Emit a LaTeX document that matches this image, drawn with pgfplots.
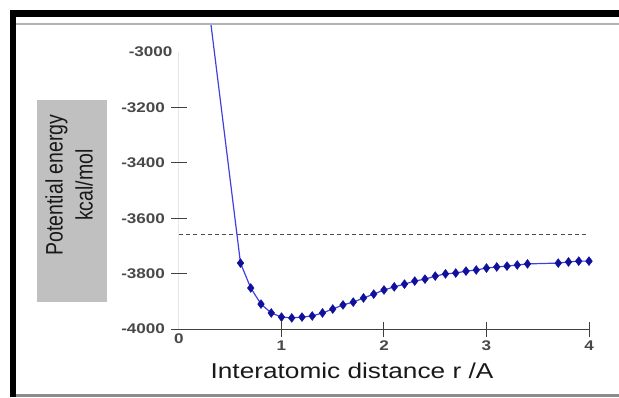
\documentclass[border=0pt]{standalone}
\usepackage{pgfplots}
\pgfplotsset{compat=1.18}
\usepackage{fontspec}
\setmainfont{Liberation Sans}
\newfontfamily\wide{Liberation Sans}[FakeStretch=1.22]
\definecolor{lineblue}{HTML}{4040E0}
\definecolor{markblue}{HTML}{10109A}
\definecolor{boxgray}{HTML}{C0C0C0}
\definecolor{ticktext}{HTML}{484848}
\begin{document}
\begin{tikzpicture}
\begin{axis}[
  name=ax,
  scale only axis, width=410pt, height=304.7pt,
  xmin=0, xmax=4, ymin=-4000, ymax=-2900,
  axis x line*=bottom, axis y line*=left,
  y axis line style={draw=none},
  x axis line style={line width=1pt, color=black!75},
  xtick={1,2,3,4}, extra x ticks={0}, extra x tick style={major tick length=0pt},
  ytick={-4000,-3800,-3600,-3400,-3200}, extra y ticks={-3000}, extra y tick style={major tick length=0pt},
  tick align=center, major tick length=15pt,
  tick style={line width=1pt, color=black!75},
  /pgf/number format/assume math mode=true,
  /pgf/number format/set thousands separator={},
  ticklabel style={font=\wide\bfseries\fontsize{14}{14}\selectfont, text=ticktext},
  yticklabel style={xshift=-3pt},
  xticklabel style={yshift=-1pt},
  clip=true,
]
\addplot[color=black!70, line width=0.8pt, dash pattern=on 4pt off 3.2pt] coordinates {(0,-3660) (4,-3660)};
\draw[line width=1pt, color=black!75] (axis cs:0,-4000) -- (axis cs:0,-3000);
\addplot[color=lineblue, line width=1.2pt, mark=diamond*, mark size=4.4pt,
  mark options={fill=markblue, draw=markblue, line width=0.5pt}] coordinates {
(0.3,-2865) (0.6,-3762) (0.7,-3852) (0.8,-3910) (0.9,-3942) (1.0,-3957)
(1.1,-3960) (1.2,-3957) (1.3,-3953) (1.4,-3942) (1.5,-3928) (1.6,-3913)
(1.7,-3903) (1.8,-3888) (1.9,-3874) (2.0,-3859) (2.1,-3848) (2.2,-3838)
(2.3,-3827) (2.4,-3820) (2.5,-3809) (2.6,-3801) (2.7,-3798) (2.8,-3791)
(2.9,-3787) (3.0,-3780) (3.1,-3776) (3.2,-3773) (3.3,-3769) (3.4,-3765)
(3.7,-3762) (3.8,-3758) (3.9,-3755) (4.0,-3755)
};
\end{axis}
\begin{scope}[shift={(ax.south west)}, x=1pt, y=1pt, shift={(-179,-68)}]
\useasboundingbox (0,0) rectangle (619,397);
% frame
\draw[line width=6.5pt, miter limit=10] (13,0) -- (13,383.5) -- (619,383.5);
\draw[line width=2.5pt, color=black!30] (16.25,373) -- (619,373);
\draw[line width=3pt, color=black!45] (16.25,1.5) -- (619,1.5);
% y label box
\fill[boxgray] (37,95) rectangle (107,297);
\node[rotate=90, align=center, text=black!90, font=\fontsize{19.5}{30}\selectfont] at (69,212)
  {\scalebox{1}[1.22]{Potential energy}\\\scalebox{1}[1.22]{kcal/mol}};
\node[anchor=base, text=black!90, font=\wide\fontsize{21.5}{22}\selectfont] at (352,19) {Interatomic distance r /A};
\end{scope}
\end{tikzpicture}
\end{document}
